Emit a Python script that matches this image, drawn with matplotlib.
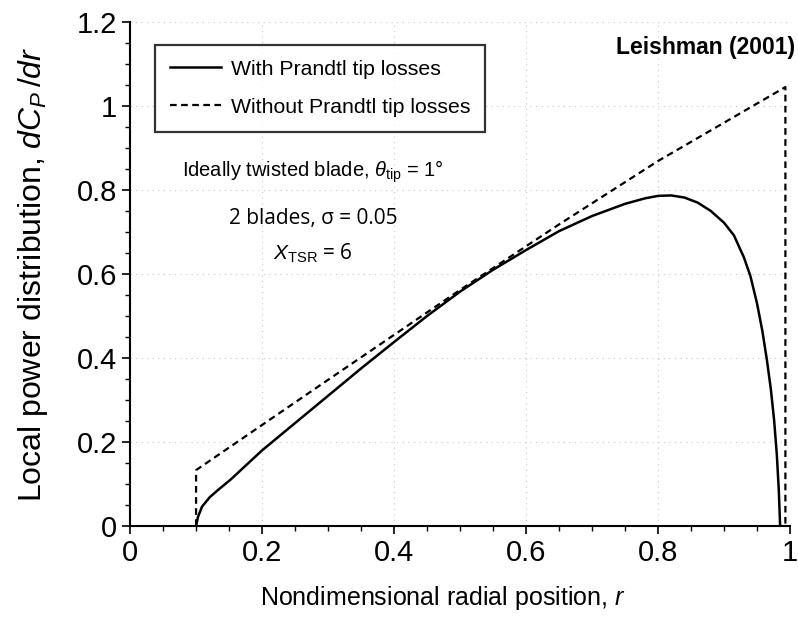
import matplotlib
matplotlib.use("Agg")
import matplotlib.pyplot as plt
from matplotlib.ticker import MultipleLocator

plt.rcParams['font.family'] = ['Liberation Sans', 'DejaVu Sans']
plt.rcParams['mathtext.fontset'] = 'custom'
plt.rcParams['mathtext.rm'] = 'Liberation Sans'
plt.rcParams['mathtext.it'] = 'Liberation Sans:italic'

# Data
r_with = [0.10, 0.103, 0.109, 0.121, 0.135, 0.152, 0.20, 0.25, 0.30, 0.35, 0.40,
          0.45, 0.50, 0.55, 0.60, 0.65, 0.70, 0.75, 0.78, 0.80, 0.82, 0.84, 0.86,
          0.88, 0.90, 0.915, 0.93, 0.94, 0.95, 0.958, 0.965, 0.971, 0.976, 0.98,
          0.983, 0.985]
cp_with = [0.0, 0.022, 0.046, 0.069, 0.088, 0.11, 0.18, 0.245, 0.31, 0.375, 0.438,
           0.50, 0.558, 0.61, 0.657, 0.702, 0.738, 0.767, 0.780, 0.786, 0.787, 0.782,
           0.770, 0.750, 0.722, 0.692, 0.64, 0.595, 0.53, 0.465, 0.395, 0.325, 0.25,
           0.17, 0.085, 0.0]

r_without = [0.1, 0.1, 0.3, 0.5, 0.65, 0.8, 0.993, 0.993]
cp_without = [0.0, 0.133, 0.348, 0.562, 0.718, 0.869, 1.045, 0.0]

x_ticks = [0, 0.2, 0.4, 0.6, 0.8, 1.0]
x_tick_labels = ['0', '0.2', '0.4', '0.6', '0.8', '1']
y_ticks = [0, 0.2, 0.4, 0.6, 0.8, 1.0, 1.2]
y_tick_labels = ['0', '0.2', '0.4', '0.6', '0.8', '1', '1.2']

fig = plt.figure(figsize=(7.98, 6.21), dpi=100)
ax = fig.add_axes([0.163, 0.153, 0.827, 0.8116])

ax.plot(r_with, cp_with, color='black', lw=1.8, ls='-', label='With Prandtl tip losses')
ax.plot(r_without, cp_without, color='black', lw=1.6, ls=(0, (3, 2)),
        label='Without Prandtl tip losses', clip_on=False)

ax.set_xlim(0, 1)
ax.set_ylim(0, 1.2)
ax.set_xticks(x_ticks)
ax.set_xticklabels(x_tick_labels)
ax.set_yticks(y_ticks)
ax.set_yticklabels(y_tick_labels)
ax.xaxis.set_minor_locator(MultipleLocator(0.05))
ax.yaxis.set_minor_locator(MultipleLocator(0.05))
ax.tick_params(which='major', direction='out', length=6, width=1.2,
               labelsize=21, colors='black')
ax.tick_params(which='minor', direction='out', length=3.5, width=1.0)

ax.spines['top'].set_visible(False)
ax.spines['right'].set_visible(False)
ax.spines['left'].set_linewidth(1.5)
ax.spines['bottom'].set_linewidth(1.5)

ax.grid(True, which='major', color='#c8c8c8', ls=(0, (1, 4)), lw=0.8)

ax.set_xlabel(r'Nondimensional radial position, $\mathit{r}$', fontsize=18, labelpad=12)
ax.xaxis.label.set_x(0.474)
ax.set_ylabel(r'Local power distribution, $dC_{P}\,/dr$', fontsize=23, labelpad=19)

leg = ax.legend(loc='upper left', bbox_to_anchor=(0.038, 0.955), fontsize=15.3,
                frameon=True, fancybox=False, shadow=False, handlelength=2.4,
                handletextpad=0.45, borderpad=0.7, labelspacing=0.9,
                borderaxespad=0.0)
leg.get_frame().set_edgecolor('black')
leg.get_frame().set_linewidth(1.6)

ax.text(0.277, 0.843, r'Ideally twisted blade, $\theta_{\rm tip}$ = 1°', fontsize=14.5,
        ha='center', va='center')
ax.text(0.277, 0.733, '2 blades, σ = 0.05', fontsize=15, ha='center', va='center',
        family=['Open Sans', 'DejaVu Sans'])
ax.text(0.277, 0.65, r'$X_{\rm TSR}$ = 6', fontsize=15, ha='center', va='center',
        family=['Open Sans', 'DejaVu Sans'])

fig.text(0.996, 0.923, 'Leishman (2001)', fontsize=16.5, fontweight='bold',
         ha='right', va='center')

fig.savefig('out.png', dpi=100)
